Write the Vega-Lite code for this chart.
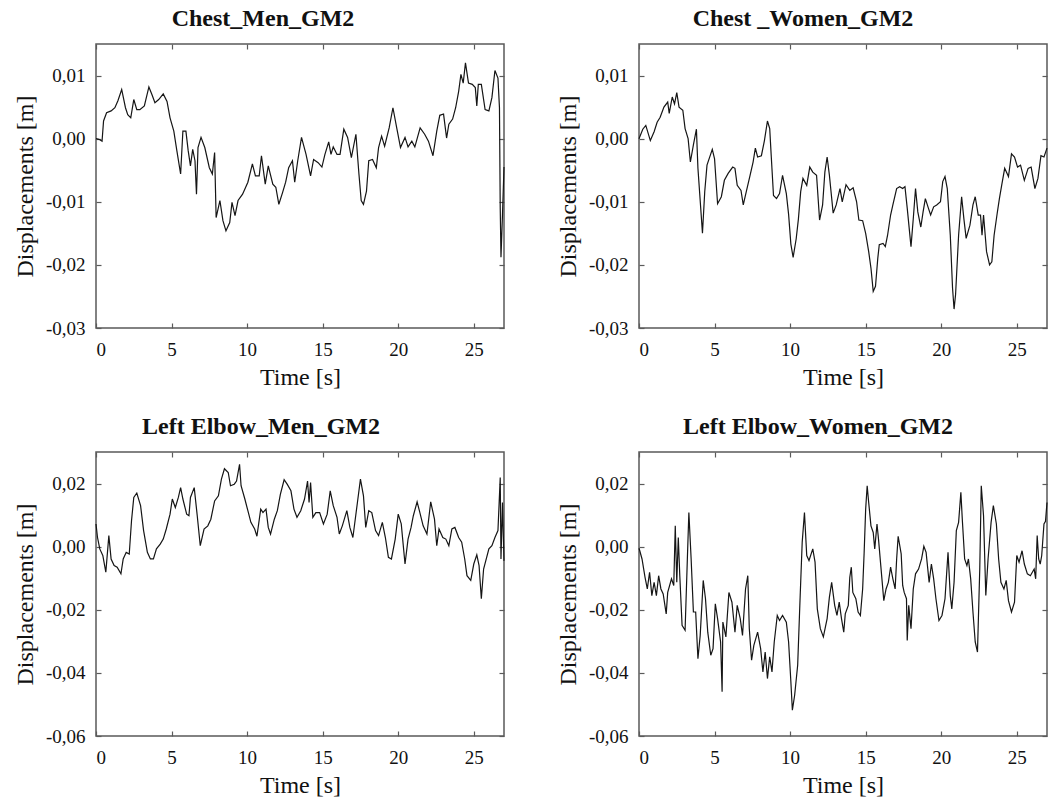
{
  "$schema": "https://vega.github.io/schema/vega-lite/v6.json",
  "background": "white",
  "padding": {"left": 12, "top": 6, "right": 8, "bottom": 10},
  "bounds": "flush",
  "columns": 2,
  "spacing": {"row": 124, "column": 135},
  "datasets": {
    "p1": [
      {"t":0,"d":0.0},{"t":0.2,"d":-0.0001},{"t":0.4,"d":-0.0004},{"t":0.5,"d":0.0028},{"t":0.7,"d":0.0041},{"t":1.0,"d":0.0044},{"t":1.25,"d":0.0049},{"t":1.45,"d":0.006},{"t":1.7,"d":0.0078},{"t":1.95,"d":0.0049},{"t":2.1,"d":0.0038},{"t":2.3,"d":0.0033},{"t":2.5,"d":0.0062},{"t":2.7,"d":0.0046},{"t":2.9,"d":0.0046},{"t":3.2,"d":0.0052},{"t":3.5,"d":0.0082},{"t":3.7,"d":0.007},{"t":3.9,"d":0.0057},{"t":4.15,"d":0.0062},{"t":4.45,"d":0.0071},{"t":4.7,"d":0.0059},{"t":4.9,"d":0.0033},{"t":5.15,"d":0.0012},{"t":5.35,"d":-0.0019},{"t":5.6,"d":-0.0056},{"t":5.75,"d":0.0012},{"t":5.95,"d":0.0012},{"t":6.1,"d":-0.0019},{"t":6.25,"d":-0.0043},{"t":6.4,"d":-0.0017},{"t":6.55,"d":-0.0035},{"t":6.65,"d":-0.0088},{"t":6.75,"d":-0.0014},{"t":6.95,"d":0.0002},{"t":7.2,"d":-0.0014},{"t":7.5,"d":-0.0046},{"t":7.7,"d":-0.0056},{"t":7.85,"d":-0.0022},{"t":7.95,"d":-0.0125},{"t":8.2,"d":-0.0098},{"t":8.4,"d":-0.013},{"t":8.6,"d":-0.0146},{"t":8.85,"d":-0.0133},{"t":9.0,"d":-0.0101},{"t":9.2,"d":-0.0122},{"t":9.4,"d":-0.0098},{"t":9.7,"d":-0.0088},{"t":10.05,"d":-0.0069},{"t":10.35,"d":-0.004},{"t":10.55,"d":-0.0059},{"t":10.8,"d":-0.0059},{"t":10.95,"d":-0.0027},{"t":11.2,"d":-0.0072},{"t":11.4,"d":-0.0043},{"t":11.7,"d":-0.0072},{"t":11.9,"d":-0.0077},{"t":12.1,"d":-0.0104},{"t":12.35,"d":-0.0085},{"t":12.55,"d":-0.0069},{"t":12.75,"d":-0.0046},{"t":13.0,"d":-0.0035},{"t":13.15,"d":-0.0069},{"t":13.35,"d":-0.0035},{"t":13.6,"d":0.0002},{"t":13.9,"d":-0.0025},{"t":14.2,"d":-0.0059},{"t":14.4,"d":-0.0033},{"t":14.7,"d":-0.0038},{"t":14.95,"d":-0.0045},{"t":15.15,"d":-0.0025},{"t":15.4,"d":-0.0005},{"t":15.55,"d":-0.0025},{"t":15.7,"d":-0.0013},{"t":15.95,"d":-0.0025},{"t":16.15,"d":-0.0025},{"t":16.4,"d":0.0015},{"t":16.65,"d":0.0002},{"t":16.9,"d":-0.003},{"t":17.2,"d":0.0007},{"t":17.4,"d":-0.0056},{"t":17.55,"d":-0.0098},{"t":17.7,"d":-0.0104},{"t":17.9,"d":-0.0083},{"t":18.05,"d":-0.0035},{"t":18.3,"d":-0.0033},{"t":18.55,"d":-0.0046},{"t":18.7,"d":-0.0014},{"t":18.9,"d":0.0004},{"t":19.1,"d":-0.0012},{"t":19.4,"d":0.0017},{"t":19.65,"d":0.0049},{"t":19.9,"d":0.0017},{"t":20.15,"d":-0.0014},{"t":20.45,"d":0.0002},{"t":20.65,"d":-0.0013},{"t":20.9,"d":-0.0004},{"t":21.1,"d":-0.0013},{"t":21.45,"d":0.0017},{"t":21.75,"d":0.0007},{"t":22.0,"d":-0.0004},{"t":22.3,"d":-0.0027},{"t":22.55,"d":0.0012},{"t":22.75,"d":0.0037},{"t":23.0,"d":0.0039},{"t":23.2,"d":0.0001},{"t":23.35,"d":0.0023},{"t":23.6,"d":0.0031},{"t":23.8,"d":0.0049},{"t":24.0,"d":0.0075},{"t":24.15,"d":0.0102},{"t":24.3,"d":0.0088},{"t":24.45,"d":0.012},{"t":24.65,"d":0.0088},{"t":24.9,"d":0.0086},{"t":25.1,"d":0.0081},{"t":25.2,"d":0.0052},{"t":25.3,"d":0.0086},{"t":25.5,"d":0.0086},{"t":25.75,"d":0.0046},{"t":26.0,"d":0.0044},{"t":26.2,"d":0.0065},{"t":26.4,"d":0.0108},{"t":26.6,"d":0.0096},{"t":26.7,"d":0.0049},{"t":26.75,"d":-0.0109},{"t":26.8,"d":-0.0188},{"t":26.9,"d":-0.012},{"t":27.0,"d":-0.0045}
    ],
    "p2": [
      {"t":0,"d":0.0},{"t":0.25,"d":0.0015},{"t":0.45,"d":0.0021},{"t":0.75,"d":-0.0003},{"t":1.0,"d":0.0011},{"t":1.2,"d":0.0026},{"t":1.4,"d":0.0034},{"t":1.65,"d":0.005},{"t":1.9,"d":0.0058},{"t":2.0,"d":0.004},{"t":2.2,"d":0.0066},{"t":2.35,"d":0.0055},{"t":2.5,"d":0.0073},{"t":2.65,"d":0.005},{"t":2.9,"d":0.0045},{"t":3.05,"d":0.0016},{"t":3.25,"d":0.0},{"t":3.4,"d":-0.0037},{"t":3.6,"d":-0.001},{"t":3.8,"d":0.0015},{"t":3.9,"d":-0.0047},{"t":4.2,"d":-0.015},{"t":4.35,"d":-0.0084},{"t":4.5,"d":-0.0042},{"t":4.85,"d":-0.0017},{"t":5.0,"d":-0.0032},{"t":5.2,"d":-0.0103},{"t":5.45,"d":-0.0092},{"t":5.65,"d":-0.0066},{"t":5.9,"d":-0.0055},{"t":6.2,"d":-0.0045},{"t":6.35,"d":-0.0047},{"t":6.5,"d":-0.0074},{"t":6.75,"d":-0.0082},{"t":6.9,"d":-0.0105},{"t":7.1,"d":-0.0084},{"t":7.35,"d":-0.0058},{"t":7.55,"d":-0.0037},{"t":7.7,"d":-0.0015},{"t":7.85,"d":-0.0029},{"t":8.1,"d":-0.0027},{"t":8.3,"d":-0.0003},{"t":8.5,"d":0.0028},{"t":8.65,"d":0.0016},{"t":8.75,"d":-0.0027},{"t":8.9,"d":-0.009},{"t":9.1,"d":-0.0095},{"t":9.3,"d":-0.0087},{"t":9.5,"d":-0.0058},{"t":9.75,"d":-0.0087},{"t":9.9,"d":-0.012},{"t":10.05,"d":-0.0167},{"t":10.2,"d":-0.0188},{"t":10.4,"d":-0.0159},{"t":10.55,"d":-0.0127},{"t":10.7,"d":-0.0084},{"t":10.85,"d":-0.0063},{"t":11.1,"d":-0.0074},{"t":11.3,"d":-0.0045},{"t":11.5,"d":-0.0053},{"t":11.75,"d":-0.0058},{"t":11.95,"d":-0.0129},{"t":12.15,"d":-0.0105},{"t":12.3,"d":-0.0053},{"t":12.45,"d":-0.0029},{"t":12.6,"d":-0.0058},{"t":12.85,"d":-0.0118},{"t":13.05,"d":-0.0105},{"t":13.3,"d":-0.0079},{"t":13.45,"d":-0.01},{"t":13.7,"d":-0.0073},{"t":13.95,"d":-0.0082},{"t":14.17,"d":-0.0078},{"t":14.4,"d":-0.01},{"t":14.55,"d":-0.0129},{"t":14.8,"d":-0.013},{"t":15.0,"d":-0.015},{"t":15.2,"d":-0.0179},{"t":15.35,"d":-0.0205},{"t":15.5,"d":-0.0242},{"t":15.65,"d":-0.0234},{"t":15.8,"d":-0.019},{"t":15.9,"d":-0.0168},{"t":16.15,"d":-0.0166},{"t":16.3,"d":-0.0171},{"t":16.45,"d":-0.0153},{"t":16.65,"d":-0.0121},{"t":16.8,"d":-0.0105},{"t":17.05,"d":-0.0079},{"t":17.25,"d":-0.0076},{"t":17.45,"d":-0.0079},{"t":17.6,"d":-0.0076},{"t":17.75,"d":-0.011},{"t":18.0,"d":-0.0171},{"t":18.15,"d":-0.0127},{"t":18.3,"d":-0.0079},{"t":18.45,"d":-0.0116},{"t":18.65,"d":-0.014},{"t":18.8,"d":-0.0116},{"t":18.95,"d":-0.0095},{"t":19.15,"d":-0.011},{"t":19.3,"d":-0.0121},{"t":19.5,"d":-0.0108},{"t":19.7,"d":-0.0105},{"t":19.95,"d":-0.01},{"t":20.1,"d":-0.0068},{"t":20.25,"d":-0.006},{"t":20.4,"d":-0.0079},{"t":20.6,"d":-0.0153},{"t":20.75,"d":-0.0237},{"t":20.85,"d":-0.027},{"t":20.95,"d":-0.0247},{"t":21.15,"d":-0.0153},{"t":21.35,"d":-0.0092},{"t":21.5,"d":-0.0127},{"t":21.65,"d":-0.0158},{"t":21.9,"d":-0.0137},{"t":22.1,"d":-0.0105},{"t":22.25,"d":-0.0092},{"t":22.45,"d":-0.0121},{"t":22.6,"d":-0.0121},{"t":22.7,"d":-0.0153},{"t":22.8,"d":-0.0121},{"t":23.0,"d":-0.0179},{"t":23.2,"d":-0.02},{"t":23.35,"d":-0.0195},{"t":23.5,"d":-0.0153},{"t":23.7,"d":-0.0119},{"t":23.85,"d":-0.0095},{"t":24.0,"d":-0.0074},{"t":24.2,"d":-0.0047},{"t":24.45,"d":-0.006},{"t":24.65,"d":-0.0024},{"t":24.85,"d":-0.0029},{"t":25.05,"d":-0.0045},{"t":25.25,"d":-0.0042},{"t":25.5,"d":-0.0066},{"t":25.75,"d":-0.0047},{"t":25.95,"d":-0.0045},{"t":26.2,"d":-0.0079},{"t":26.4,"d":-0.0063},{"t":26.6,"d":-0.0027},{"t":26.8,"d":-0.0029},{"t":27.0,"d":-0.0015}
    ],
    "p3": [
      {"t":0,"d":0.0072},{"t":0.1,"d":0.0029},{"t":0.25,"d":-0.0007},{"t":0.45,"d":-0.0028},{"t":0.65,"d":-0.0081},{"t":0.85,"d":0.0035},{"t":1.0,"d":-0.0039},{"t":1.2,"d":-0.006},{"t":1.4,"d":-0.0065},{"t":1.65,"d":-0.0086},{"t":1.8,"d":-0.0039},{"t":2.0,"d":-0.0018},{"t":2.2,"d":-0.0023},{"t":2.35,"d":0.0082},{"t":2.5,"d":0.0156},{"t":2.7,"d":0.017},{"t":2.95,"d":0.013},{"t":3.15,"d":0.0051},{"t":3.4,"d":-0.0018},{"t":3.6,"d":-0.0039},{"t":3.8,"d":-0.0039},{"t":4.0,"d":-0.0007},{"t":4.25,"d":0.0008},{"t":4.45,"d":0.0024},{"t":4.65,"d":0.0056},{"t":4.9,"d":0.0103},{"t":5.05,"d":0.0151},{"t":5.25,"d":0.0124},{"t":5.45,"d":0.0156},{"t":5.6,"d":0.0187},{"t":5.75,"d":0.0151},{"t":6.0,"d":0.0103},{"t":6.15,"d":0.0098},{"t":6.25,"d":0.0156},{"t":6.5,"d":0.0187},{"t":6.7,"d":0.0098},{"t":6.9,"d":0.0003},{"t":7.15,"d":0.0056},{"t":7.4,"d":0.0066},{"t":7.6,"d":0.0087},{"t":7.85,"d":0.0145},{"t":8.1,"d":0.0161},{"t":8.3,"d":0.0214},{"t":8.5,"d":0.0247},{"t":8.75,"d":0.0235},{"t":8.9,"d":0.0193},{"t":9.15,"d":0.0198},{"t":9.3,"d":0.0208},{"t":9.5,"d":0.0261},{"t":9.6,"d":0.0193},{"t":9.85,"d":0.0151},{"t":10.05,"d":0.0114},{"t":10.25,"d":0.0077},{"t":10.5,"d":0.0056},{"t":10.65,"d":0.0033},{"t":10.9,"d":0.0119},{"t":11.05,"d":0.0108},{"t":11.25,"d":0.0119},{"t":11.4,"d":0.0061},{"t":11.55,"d":0.004},{"t":11.8,"d":0.0087},{"t":12.0,"d":0.0114},{"t":12.2,"d":0.0166},{"t":12.45,"d":0.0212},{"t":12.65,"d":0.0198},{"t":12.9,"d":0.0177},{"t":13.1,"d":0.0119},{"t":13.3,"d":0.0093},{"t":13.55,"d":0.0114},{"t":13.8,"d":0.0151},{"t":14.0,"d":0.0208},{"t":14.1,"d":0.014},{"t":14.2,"d":0.0203},{"t":14.35,"d":0.0093},{"t":14.55,"d":0.0108},{"t":14.8,"d":0.0108},{"t":15.05,"d":0.0072},{"t":15.3,"d":0.0103},{"t":15.5,"d":0.0177},{"t":15.7,"d":0.013},{"t":15.95,"d":0.0093},{"t":16.1,"d":0.004},{"t":16.3,"d":0.0066},{"t":16.6,"d":0.0114},{"t":16.8,"d":0.0061},{"t":17.0,"d":0.0029},{"t":17.3,"d":0.014},{"t":17.5,"d":0.0214},{"t":17.7,"d":0.0161},{"t":17.85,"d":0.0061},{"t":18.05,"d":0.0114},{"t":18.25,"d":0.0108},{"t":18.5,"d":0.0051},{"t":18.7,"d":0.0035},{"t":18.95,"d":0.0077},{"t":19.15,"d":0.0029},{"t":19.35,"d":-0.0034},{"t":19.55,"d":-0.0039},{"t":19.8,"d":0.0024},{"t":20.0,"d":0.0103},{"t":20.2,"d":0.0072},{"t":20.45,"d":-0.0055},{"t":20.65,"d":0.0024},{"t":20.85,"d":0.0061},{"t":21.0,"d":0.0098},{"t":21.25,"d":0.0142},{"t":21.4,"d":0.0114},{"t":21.65,"d":0.0066},{"t":21.9,"d":0.004},{"t":22.15,"d":0.0142},{"t":22.4,"d":0.0087},{"t":22.55,"d":0.0003},{"t":22.7,"d":0.0056},{"t":22.95,"d":0.0029},{"t":23.15,"d":0.0024},{"t":23.35,"d":0.0003},{"t":23.55,"d":0.0056},{"t":23.75,"d":0.0061},{"t":24.0,"d":0.0029},{"t":24.2,"d":0.0014},{"t":24.4,"d":-0.0039},{"t":24.55,"d":-0.0092},{"t":24.8,"d":-0.0107},{"t":25.0,"d":-0.0055},{"t":25.2,"d":-0.0026},{"t":25.35,"d":-0.006},{"t":25.5,"d":-0.0165},{"t":25.65,"d":-0.0071},{"t":26.0,"d":-0.0007},{"t":26.2,"d":0.0003},{"t":26.4,"d":0.0029},{"t":26.6,"d":0.0051},{"t":26.75,"d":0.0219},{"t":26.8,"d":-0.0039},{"t":26.9,"d":0.014},{"t":27.0,"d":-0.0045}
    ],
    "p4": [
      {"t":0,"d":-0.0005},{"t":0.05,"d":-0.0013},{"t":0.2,"d":-0.0039},{"t":0.4,"d":-0.0097},{"t":0.55,"d":-0.0134},{"t":0.7,"d":-0.0081},{"t":0.85,"d":-0.0155},{"t":1.0,"d":-0.0113},{"t":1.15,"d":-0.0155},{"t":1.3,"d":-0.0092},{"t":1.45,"d":-0.0134},{"t":1.6,"d":-0.015},{"t":1.8,"d":-0.0213},{"t":1.9,"d":-0.0145},{"t":2.15,"d":-0.0102},{"t":2.3,"d":-0.0123},{"t":2.4,"d":0.0066},{"t":2.5,"d":-0.0113},{"t":2.6,"d":0.0029},{"t":2.7,"d":-0.0092},{"t":2.85,"d":-0.0249},{"t":3.05,"d":-0.0265},{"t":3.2,"d":-0.0039},{"t":3.3,"d":0.0108},{"t":3.45,"d":-0.0039},{"t":3.6,"d":-0.0207},{"t":3.75,"d":-0.0207},{"t":3.9,"d":-0.0355},{"t":4.05,"d":-0.0281},{"t":4.25,"d":-0.0107},{"t":4.4,"d":-0.0165},{"t":4.55,"d":-0.0271},{"t":4.75,"d":-0.0344},{"t":4.9,"d":-0.0323},{"t":5.05,"d":-0.0181},{"t":5.2,"d":-0.0228},{"t":5.4,"d":-0.0302},{"t":5.5,"d":-0.046},{"t":5.55,"d":-0.0239},{"t":5.75,"d":-0.0286},{"t":5.95,"d":-0.0145},{"t":6.15,"d":-0.0176},{"t":6.35,"d":-0.0271},{"t":6.5,"d":-0.0186},{"t":6.7,"d":-0.0228},{"t":6.85,"d":-0.0281},{"t":7.05,"d":-0.0134},{"t":7.2,"d":-0.0092},{"t":7.3,"d":-0.026},{"t":7.45,"d":-0.036},{"t":7.6,"d":-0.0313},{"t":7.85,"d":-0.0271},{"t":8.05,"d":-0.0323},{"t":8.2,"d":-0.0397},{"t":8.35,"d":-0.0334},{"t":8.5,"d":-0.0418},{"t":8.65,"d":-0.0349},{"t":8.8,"d":-0.0397},{"t":8.95,"d":-0.0302},{"t":9.15,"d":-0.0218},{"t":9.3,"d":-0.0234},{"t":9.5,"d":-0.0218},{"t":9.75,"d":-0.0239},{"t":9.9,"d":-0.0302},{"t":10.05,"d":-0.0428},{"t":10.15,"d":-0.0518},{"t":10.3,"d":-0.0471},{"t":10.5,"d":-0.0376},{"t":10.65,"d":-0.0176},{"t":10.8,"d":0.0014},{"t":10.95,"d":0.0108},{"t":11.1,"d":-0.0028},{"t":11.25,"d":-0.0044},{"t":11.5,"d":-0.0007},{"t":11.65,"d":-0.0049},{"t":11.8,"d":-0.0197},{"t":12.0,"d":-0.026},{"t":12.2,"d":-0.0286},{"t":12.45,"d":-0.0228},{"t":12.6,"d":-0.016},{"t":12.75,"d":-0.0113},{"t":12.95,"d":-0.0186},{"t":13.1,"d":-0.0218},{"t":13.25,"d":-0.0176},{"t":13.4,"d":-0.0228},{"t":13.55,"d":-0.0271},{"t":13.65,"d":-0.0213},{"t":13.85,"d":-0.0186},{"t":13.95,"d":-0.0097},{"t":14.05,"d":-0.0065},{"t":14.15,"d":-0.0145},{"t":14.35,"d":-0.0165},{"t":14.5,"d":-0.0207},{"t":14.65,"d":-0.0218},{"t":14.8,"d":-0.0134},{"t":14.9,"d":-0.0018},{"t":15.0,"d":0.0119},{"t":15.1,"d":0.0193},{"t":15.2,"d":0.014},{"t":15.35,"d":0.0066},{"t":15.5,"d":0.0045},{"t":15.6,"d":-0.0007},{"t":15.75,"d":0.0072},{"t":15.85,"d":0.0024},{"t":16.0,"d":-0.006},{"t":16.2,"d":-0.0171},{"t":16.35,"d":-0.0134},{"t":16.5,"d":-0.0113},{"t":16.65,"d":-0.0065},{"t":16.8,"d":-0.0102},{"t":16.95,"d":-0.0134},{"t":17.05,"d":-0.0039},{"t":17.15,"d":0.0033},{"t":17.35,"d":-0.0023},{"t":17.45,"d":-0.0123},{"t":17.55,"d":-0.0145},{"t":17.7,"d":-0.0165},{"t":17.75,"d":-0.0297},{"t":17.85,"d":-0.0186},{"t":18.0,"d":-0.026},{"t":18.15,"d":-0.0134},{"t":18.3,"d":-0.0086},{"t":18.5,"d":-0.0071},{"t":18.7,"d":-0.0039},{"t":18.85,"d":0.0001},{"t":19.0,"d":-0.0018},{"t":19.2,"d":-0.0113},{"t":19.35,"d":-0.0055},{"t":19.5,"d":-0.0102},{"t":19.65,"d":-0.0165},{"t":19.85,"d":-0.0234},{"t":20.05,"d":-0.0218},{"t":20.25,"d":-0.0165},{"t":20.45,"d":-0.0018},{"t":20.6,"d":-0.0155},{"t":20.7,"d":-0.0197},{"t":20.85,"d":-0.0113},{"t":21.0,"d":0.0051},{"t":21.15,"d":0.0077},{"t":21.3,"d":0.0172},{"t":21.4,"d":0.0082},{"t":21.55,"d":-0.0039},{"t":21.7,"d":-0.006},{"t":21.8,"d":-0.0039},{"t":21.95,"d":-0.0102},{"t":22.1,"d":-0.0207},{"t":22.25,"d":-0.0302},{"t":22.4,"d":-0.0334},{"t":22.55,"d":-0.0071},{"t":22.65,"d":0.0193},{"t":22.8,"d":0.0098},{"t":22.95,"d":-0.0155},{"t":23.1,"d":-0.0039},{"t":23.3,"d":0.0077},{"t":23.45,"d":0.013},{"t":23.65,"d":0.0072},{"t":23.8,"d":-0.0039},{"t":23.95,"d":-0.0113},{"t":24.15,"d":-0.0134},{"t":24.3,"d":-0.0107},{"t":24.45,"d":-0.0171},{"t":24.65,"d":-0.0207},{"t":24.85,"d":-0.0176},{"t":25.0,"d":-0.0028},{"t":25.15,"d":-0.0049},{"t":25.35,"d":-0.0013},{"t":25.5,"d":-0.0055},{"t":25.7,"d":-0.0086},{"t":25.9,"d":-0.0092},{"t":26.15,"d":-0.0071},{"t":26.25,"d":-0.0102},{"t":26.35,"d":0.0035},{"t":26.45,"d":-0.0039},{"t":26.55,"d":-0.0055},{"t":26.65,"d":-0.0028},{"t":26.8,"d":0.0072},{"t":26.9,"d":0.008},{"t":27.0,"d":0.014}
    ]
  },
  "concat": [
    {
      "width": 408, "height": 284,
      "title": {"text": "Chest_Men_GM2", "dx": -37},
      "data": {"name": "p1"},
      "layer": [
        {"mark": {"type": "line", "color": "#151515", "strokeWidth": 1.2},
         "encoding": {
           "x": {"field": "t", "type": "quantitative", "scale": {"domain": [0, 27], "nice": false, "zero": false}, "axis": {"orient": "bottom", "title": "Time [s]", "values": [0,5,10,15,20,25], "format": "d"}},
           "y": {"field": "d", "type": "quantitative", "scale": {"domain": [-0.03, 0.015], "nice": false, "zero": false}, "axis": {"orient": "left", "title": "Displacements [m]", "values": [-0.03,-0.02,-0.01,0,0.01], "labelExpr": "replace(replace(format(datum.value, '.2f'), '.', ','), '\u2212', '-')"}}
         }},
        {"mark": {"type": "line", "strokeOpacity": 0},
         "encoding": {
           "x": {"field": "t", "type": "quantitative", "axis": {"orient": "top", "title": null, "labels": false, "values": [0,5,10,15,20,25]}},
           "y": {"field": "d", "type": "quantitative", "axis": {"orient": "right", "title": null, "labels": false, "values": [-0.03,-0.02,-0.01,0,0.01]}}
         }}
      ],
      "resolve": {"axis": {"x": "independent", "y": "independent"}}
    },
    {
      "width": 408, "height": 284,
      "title": {"text": "Chest _Women_GM2", "dx": -40},
      "data": {"name": "p2"},
      "layer": [
        {"mark": {"type": "line", "color": "#151515", "strokeWidth": 1.2},
         "encoding": {
           "x": {"field": "t", "type": "quantitative", "scale": {"domain": [0, 27], "nice": false, "zero": false}, "axis": {"orient": "bottom", "title": "Time [s]", "values": [0,5,10,15,20,25], "format": "d"}},
           "y": {"field": "d", "type": "quantitative", "scale": {"domain": [-0.03, 0.015], "nice": false, "zero": false}, "axis": {"orient": "left", "title": "Displacements [m]", "values": [-0.03,-0.02,-0.01,0,0.01], "labelExpr": "replace(replace(format(datum.value, '.2f'), '.', ','), '\u2212', '-')"}}
         }},
        {"mark": {"type": "line", "strokeOpacity": 0},
         "encoding": {
           "x": {"field": "t", "type": "quantitative", "axis": {"orient": "top", "title": null, "labels": false, "values": [0,5,10,15,20,25]}},
           "y": {"field": "d", "type": "quantitative", "axis": {"orient": "right", "title": null, "labels": false, "values": [-0.03,-0.02,-0.01,0,0.01]}}
         }}
      ],
      "resolve": {"axis": {"x": "independent", "y": "independent"}}
    },
    {
      "width": 408, "height": 284,
      "title": {"text": "Left Elbow_Men_GM2", "dx": -39},
      "data": {"name": "p3"},
      "layer": [
        {"mark": {"type": "line", "color": "#151515", "strokeWidth": 1.2},
         "encoding": {
           "x": {"field": "t", "type": "quantitative", "scale": {"domain": [0, 27], "nice": false, "zero": false}, "axis": {"orient": "bottom", "title": "Time [s]", "values": [0,5,10,15,20,25], "format": "d"}},
           "y": {"field": "d", "type": "quantitative", "scale": {"domain": [-0.06, 0.03], "nice": false, "zero": false}, "axis": {"orient": "left", "title": "Displacements [m]", "values": [-0.06,-0.04,-0.02,0,0.02], "labelExpr": "replace(replace(format(datum.value, '.2f'), '.', ','), '\u2212', '-')"}}
         }},
        {"mark": {"type": "line", "strokeOpacity": 0},
         "encoding": {
           "x": {"field": "t", "type": "quantitative", "axis": {"orient": "top", "title": null, "labels": false, "values": [0,5,10,15,20,25]}},
           "y": {"field": "d", "type": "quantitative", "axis": {"orient": "right", "title": null, "labels": false, "values": [-0.06,-0.04,-0.02,0,0.02]}}
         }}
      ],
      "resolve": {"axis": {"x": "independent", "y": "independent"}}
    },
    {
      "width": 408, "height": 284,
      "title": {"text": "Left Elbow_Women_GM2", "dx": -25},
      "data": {"name": "p4"},
      "layer": [
        {"mark": {"type": "line", "color": "#151515", "strokeWidth": 1.2},
         "encoding": {
           "x": {"field": "t", "type": "quantitative", "scale": {"domain": [0, 27], "nice": false, "zero": false}, "axis": {"orient": "bottom", "title": "Time [s]", "values": [0,5,10,15,20,25], "format": "d"}},
           "y": {"field": "d", "type": "quantitative", "scale": {"domain": [-0.06, 0.03], "nice": false, "zero": false}, "axis": {"orient": "left", "title": "Displacements [m]", "values": [-0.06,-0.04,-0.02,0,0.02], "labelExpr": "replace(replace(format(datum.value, '.2f'), '.', ','), '\u2212', '-')"}}
         }},
        {"mark": {"type": "line", "strokeOpacity": 0},
         "encoding": {
           "x": {"field": "t", "type": "quantitative", "axis": {"orient": "top", "title": null, "labels": false, "values": [0,5,10,15,20,25]}},
           "y": {"field": "d", "type": "quantitative", "axis": {"orient": "right", "title": null, "labels": false, "values": [-0.06,-0.04,-0.02,0,0.02]}}
         }}
      ],
      "resolve": {"axis": {"x": "independent", "y": "independent"}}
    }
  ],
  "config": {
    "font": "Liberation Serif",
    "view": {"stroke": "#5a5a5a", "strokeWidth": 1.5},
    "axis": {
      "grid": false, "domain": false,
      "labelFont": "Liberation Serif", "labelFontSize": 19, "labelColor": "#111",
      "titleFont": "Liberation Serif", "titleFontSize": 24, "titleFontWeight": "normal", "titleColor": "#111",
      "tickColor": "#5a5a5a", "tickSize": -5, "tickWidth": 1.2,
      "labelPadding": 16, "titlePadding": 8
    },
    "axisX": {"labelPadding": 17, "titlePadding": 6},
    "title": {"font": "Liberation Serif", "fontSize": 24, "fontWeight": "bold", "color": "#111", "offset": 12}
  }
}
